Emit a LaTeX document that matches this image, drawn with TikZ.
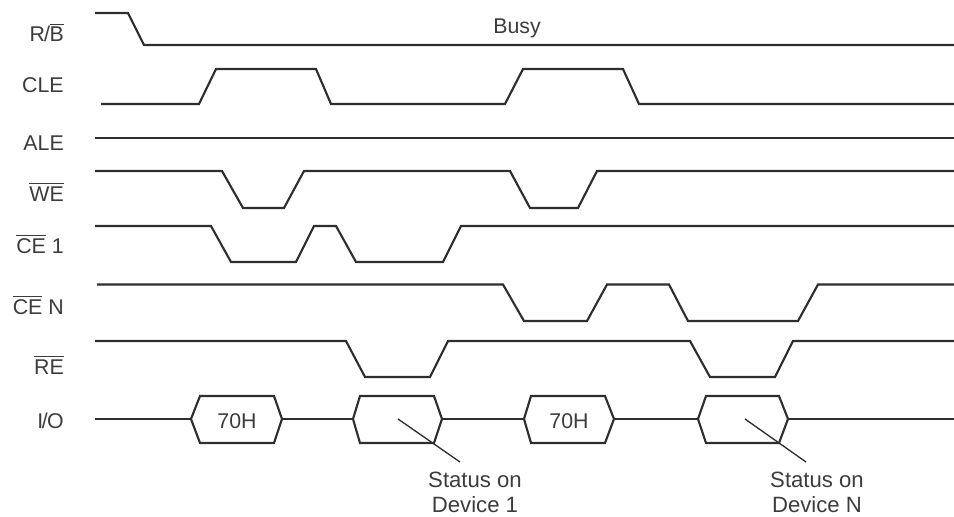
\documentclass[tikz,border=0pt]{standalone}
\usepackage{fontspec}
\setmainfont{Liberation Sans}
\definecolor{ink}{HTML}{2E2E2E}
\definecolor{txt}{HTML}{3C3C3C}
\newcommand\ovl[1]{\setbox0=\hbox{#1}\hbox{\rlap{\raisebox{\dimexpr\ht0+1.6pt\relax}{\rule{\wd0}{0.9pt}}}\box0}}
\tikzset{
  wave/.style={draw=ink,line width=1.6pt,line join=miter},
  leader/.style={draw=ink,line width=1pt},
  sig/.style={anchor=east,inner sep=0pt,text=txt,font=\fontsize{16}{18}\selectfont},
  note/.style={anchor=center,inner sep=0pt,align=center,text=txt,font=\fontsize{16}{18.75}\selectfont},
  status/.style={note,font=\fontsize{16.6}{18.75}\selectfont},
}
\begin{document}
\begin{tikzpicture}[x=0.75pt,y=-0.75pt]
\useasboundingbox (0,0) rectangle (954,517);
% signal labels
\node[sig] (lrb) at (64,33) {R\kern-0.5pt/\kern-0.5pt\ovl{B}};
\node[sig] (lcle) at (64,85) {CLE};
\node[sig] (lale) at (64,143) {ALE};
\node[sig] (lwe) at (64,192) {\ovl{WE}};
\node[sig] (lce1) at (64,244) {\ovl{CE} 1};
\node[sig] (lcen) at (64,305) {\ovl{CE} N};
\node[sig] (lre) at (64,365) {\ovl{RE}};
\node[sig] (lio) at (64,421) {I\kern-1pt/\kern-0.5ptO};
\node[note] (busy) at (517,28) {Busy};
% waveforms
\draw[wave] (95,13) -- (128,13) -- (144,45) -- (954,45);
\draw[wave] (101,104) -- (199,104) -- (216,69) -- (316,69) -- (331,104) -- (505,104) -- (523,69) -- (623,69) -- (639,104) -- (954,104);
\draw[wave] (95,138) -- (954,138);
\draw[wave] (95,171) -- (222,171) -- (243,208) -- (284,208) -- (304,171) -- (510,171) -- (530,208) -- (578,208) -- (597,171) -- (954,171);
\draw[wave] (95,226) -- (211,226) -- (231,262) -- (296,262) -- (314,226) -- (336,226) -- (356,262) -- (443,262) -- (461,226) -- (954,226);
\draw[wave] (97,284.5) -- (503,284.5) -- (524,321) -- (587,321) -- (607,284.5) -- (669,284.5) -- (688,321) -- (798,321) -- (818,284.5) -- (954,284.5);
\draw[wave] (95,341) -- (346,341) -- (365,377) -- (430,377) -- (448,341) -- (690,341) -- (710,377) -- (775,377) -- (793,341) -- (954,341);
% I/O bus
\draw[wave] (95,419) -- (191,419);
\draw[wave] (191,419) -- (200,396) -- (274,396) -- (282,419) -- (274,443) -- (200,443) -- cycle;
\draw[wave] (282,419) -- (353,419);
\draw[wave] (353,419) -- (360,396) -- (434,396) -- (442,419) -- (434,443) -- (360,443) -- cycle;
\draw[wave] (442,419) -- (524,419);
\draw[wave] (524,419) -- (531,396) -- (605,396) -- (614,419) -- (605,443) -- (531,443) -- cycle;
\draw[wave] (614,419) -- (698,419);
\draw[wave] (698,419) -- (706,396) -- (779,396) -- (788,419) -- (779,443) -- (706,443) -- cycle;
\draw[wave] (788,419) -- (954,419);
\node[note] (h1) at (237,421) {70H};
\node[note] (h3) at (569,421) {70H};
% status notes
\node[status] (s1) at (475,492.5) {Status on\\Device 1};
\node[status] (sn) at (817,492.5) {Status on\\Device N};
\coordinate (a1) at (398,419);
\coordinate (b1) at (460,462);
\coordinate (an) at (745,419);
\coordinate (bn) at (806,462);
\draw[leader] (a1) -- (b1);
\draw[leader] (an) -- (bn);
\end{tikzpicture}
\end{document}
